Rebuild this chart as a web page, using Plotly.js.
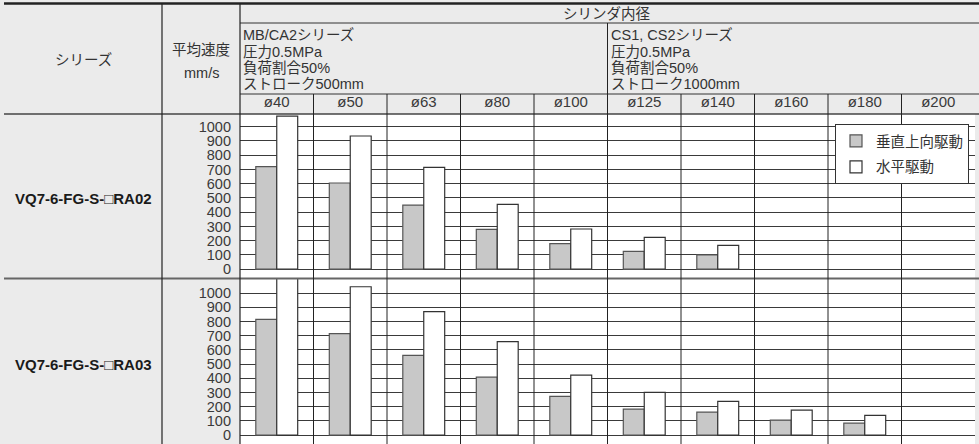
<!DOCTYPE html>
<html>
<head>
<meta charset="utf-8">
<script src="https://cdn.plot.ly/plotly-3.0.1.min.js"></script>
<style>
html,body{margin:0;padding:0;background:#ebebeb;}
#chart{width:979px;height:444px;}
</style>
</head>
<body>
<div id="chart"></div>
<script>
// ---- data ----
const categories = ['ø40','ø50','ø63','ø80','ø100','ø125','ø140','ø160','ø180','ø200'];
const ra02Vertical   = [720, 605, 450, 280, 180, 125, 100, null, null, null];
const ra02Horizontal = [1075, 935, 715, 455, 282, 223, 167, null, null, null];
const ra03Vertical   = [815, 715, 562, 408, 272, 183, 162, 105, 84, null];
const ra03Horizontal = [1110, 1045, 870, 658, 422, 300, 237, 176, 138, null];
const yTickVals = [0,100,200,300,400,500,600,700,800,900,1000];
const seriesNames = ['VQ7-6-FG-S-□RA02','VQ7-6-FG-S-□RA03'];
const legendNames = ['垂直上向駆動','水平駆動'];
const groupCounts = [5, 5];
const groupTexts = [
  ['MB/CA2シリーズ','圧力0.5MPa','負荷割合50%','ストローク500mm'],
  ['CS1, CS2シリーズ','圧力0.5MPa','負荷割合50%','ストローク1000mm']
];
const headerSeries = 'シリーズ';
const headerSpeed = ['平均速度','mm/s'];
const headerBore = 'シリンダ内径';

// ---- layout helpers ----
const W = 979, H = 444;
const X = px => px / W;
const Y = py => 1 - py / H;
const FONT = 'Liberation Sans, Arial, Noto Sans CJK JP, sans-serif';
const TXT = '#333333';

const grayFill = '#c8c8c8', whiteFill = '#ffffff';

const traces = [
  {type:'bar', x:categories, y:ra02Vertical, name:legendNames[0], xaxis:'x', yaxis:'y',
   marker:{color:grayFill, line:{color:'#555', width:1.2}}, legendgroup:'a', hoverinfo:'skip'},
  {type:'bar', x:categories, y:ra02Horizontal, name:legendNames[1], xaxis:'x', yaxis:'y',
   marker:{color:whiteFill, line:{color:'#333', width:1.2}}, legendgroup:'b', hoverinfo:'skip'},
  {type:'bar', x:categories, y:ra03Vertical, name:legendNames[0], xaxis:'x2', yaxis:'y2', showlegend:false,
   marker:{color:grayFill, line:{color:'#555', width:1.2}}, hoverinfo:'skip'},
  {type:'bar', x:categories, y:ra03Horizontal, name:legendNames[1], xaxis:'x2', yaxis:'y2', showlegend:false,
   marker:{color:whiteFill, line:{color:'#333', width:1.2}}, hoverinfo:'skip'}
];

const xDomain = [X(240), X(975)];
const xCommon = {
  type:'category', categoryorder:'array', categoryarray:categories,
  range:[-0.5, categories.length - 0.5], domain:xDomain,
  showgrid:false, zeroline:false, showline:false, ticks:'', fixedrange:true
};
const yCommon = {
  tickvals:yTickVals, showgrid:true, gridcolor:'#3a3a3a', gridwidth:1,
  zeroline:false, showline:false, ticks:'', ticklabelstandoff:8,
  tickfont:{family:FONT, size:14.5, color:'#3a3a3a'}, fixedrange:true
};

const shapes = [];
function hline(py, x0, x1, w, c){
  shapes.push({type:'line', xref:'paper', yref:'paper', x0:X(x0), x1:X(x1), y0:Y(py), y1:Y(py),
    line:{color:c, width:w}, layer:'above'});
}
function vline(px, y0, y1, w, c){
  shapes.push({type:'line', xref:'paper', yref:'paper', x0:X(px), x1:X(px), y0:Y(y0), y1:Y(y1),
    line:{color:c, width:w}, layer:'above'});
}
hline(3.5, 4, 979, 2.5, '#222');
hline(23, 240, 979, 1, '#333');
hline(94, 240, 979, 1, '#333');
hline(114, 4, 979, 1.6, '#444');
hline(278.5, 4, 979, 2, '#666');
vline(162, 3, 444, 1.2, '#222');
vline(240, 3, 444, 1.2, '#222');
// column boundaries (category units)
for (let i = 1; i < categories.length; i++) {
  shapes.push({type:'line', xref:'x', yref:'paper', x0:i-0.5, x1:i-0.5, y0:0, y1:Y(94),
    line:{color:'#222', width:1}, layer:'above'});
}
// group boundaries in header
let start = 0;
const groupStarts = [];
groupCounts.forEach((n, gi) => {
  groupStarts.push(start);
  if (gi > 0) {
    shapes.push({type:'line', xref:'x', yref:'paper', x0:start-0.5, x1:start-0.5, y0:Y(94), y1:Y(23),
      line:{color:'#222', width:1}, layer:'above'});
  }
  start += n;
});

const annotations = [];
function ann(text, px, py, opts){
  annotations.push(Object.assign({text:text, xref:'paper', yref:'paper', x:X(px), y:Y(py),
    xanchor:'center', yanchor:'middle', showarrow:false,
    font:{family:FONT, size:14.5, color:TXT}}, opts||{}));
}
ann(headerSeries, 83, 60);
ann(headerSpeed[0], 201, 50);
ann(headerSpeed[1], 201, 73);
ann(headerBore, 607, 14);
const lineY = [35, 52, 68, 84];
groupTexts.forEach((lines, gi) => {
  lines.forEach((t, li) => {
    annotations.push({text:t, xref:'x', yref:'paper', x:groupStarts[gi]-0.5, y:Y(lineY[li]),
      xanchor:'left', yanchor:'middle', xshift:1, showarrow:false,
      font:{family:FONT, size:14.5, color:TXT}});
  });
});
ann('<b>'+seriesNames[0]+'</b>', 83, 198, {font:{family:FONT, size:15, color:'#1a1a1a'}});
ann('<b>'+seriesNames[1]+'</b>', 83, 364, {font:{family:FONT, size:15, color:'#1a1a1a'}});

const layout = {
  width:W, height:H,
  margin:{l:0, r:0, t:0, b:0, pad:0},
  paper_bgcolor:'#ebebeb', plot_bgcolor:'#ffffff',
  barmode:'group', bargap:0.43, bargroupgap:0,
  font:{family:FONT, size:14, color:TXT},
  xaxis:Object.assign({}, xCommon, {anchor:'y', side:'top', showticklabels:true,
    tickfont:{family:FONT, size:15, color:'#3a3a3a'}, ticklabelstandoff:3}),
  xaxis2:Object.assign({}, xCommon, {anchor:'y2', showticklabels:false}),
  yaxis:Object.assign({}, yCommon, {domain:[Y(278.5), Y(114)], range:[-65.5, 1089.4], anchor:'x'}),
  yaxis2:Object.assign({}, yCommon, {domain:[0, Y(278.5)], range:[-63.2, 1103.3], anchor:'x2'}),
  legend:{x:X(835), y:Y(124), xanchor:'left', yanchor:'top', bgcolor:'#ffffff',
    bordercolor:'#333', borderwidth:1, font:{family:FONT, size:14.5, color:TXT},
    traceorder:'grouped', tracegroupgap:4, itemwidth:30},
  shapes:shapes,
  annotations:annotations,
  showlegend:true
};

Plotly.newPlot('chart', traces, layout, {staticPlot:true, displayModeBar:false});
</script>
</body>
</html>
